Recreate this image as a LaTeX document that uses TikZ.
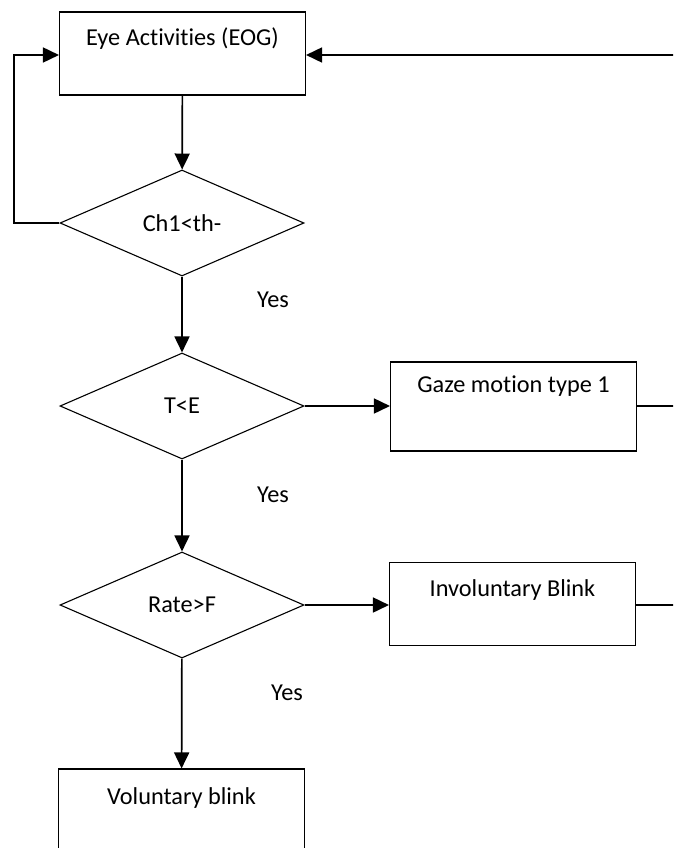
\documentclass[tikz,border=0pt]{standalone}
\usepackage{fontspec}
\setmainfont[Ligatures=NoCommon]{Carlito}
\usepackage{tikz}
\usetikzlibrary{arrows.meta,shapes.geometric}

\tikzset{
	blockbox/.style = {draw, line width=1.1pt, minimum width=246pt, minimum height=83pt, inner sep=0pt, text height=15pt, text depth=#1},
	blockbox/.default = 31pt,
	testbox/.style = {draw, diamond, line width=1.1pt, minimum width=244pt, minimum height=106pt, inner sep=0pt},
	flow/.style = {line width=1.7pt, -{Triangle[length=16pt,width=15pt]}},
	plain/.style = {line width=1.7pt}
}

\begin{document}
\begin{tikzpicture}[x=1pt, y=-1pt, font=\fontsize{24.3}{29}\selectfont]
	\useasboundingbox (0,0) rectangle (673,848);
	\clip (0,0) rectangle (673,848);
	% boxes
	\node[blockbox] (eog) at (182.5,53.5) {Eye Activities (EOG)};
	\node[blockbox=43pt, minimum height=89pt] (gaze) at (513.5,406.5) {Gaze motion type 1};
	\node[blockbox] (invol) at (512.5,604) {Involuntary Blink};
	\node[blockbox=28pt] (vol) at (181.5,810.5) {Voluntary blink};
	% tests
	\node[testbox] (ch) at (182,223) {Ch1<th-};
	\node[testbox] (te) at (182,406) {T<E};
	\node[testbox] (rate) at (182,605) {Rate>F};
	% answers
	\node (yesOne) at (273,300) {Yes};
	\node (yesTwo) at (273,495) {Yes};
	\node (yesThree) at (287,693) {Yes};
	% free ends beyond the right edge
	\coordinate (backIn) at (690,55);
	\coordinate (gazeOut) at (690,406);
	\coordinate (involOut) at (690,605);
	\coordinate (loopTop) at (14,55);
	% connectors
	\draw[flow] (eog) -- (ch);
	\draw[flow] (ch) -- (te);
	\draw[flow] (te) -- (rate);
	\draw[flow] (rate) -- (vol);
	\draw[flow] (te.east) -- (gaze.west |- te.east);
	\draw[flow] (rate.east) -- (invol.west |- rate.east);
	\draw[flow] (ch.west) -| (loopTop) -- (eog.west |- loopTop);
	\draw[flow] (backIn) -- (eog.east |- backIn);
	\draw[plain] (gaze.east |- gazeOut) -- (gazeOut);
	\draw[plain] (invol.east |- involOut) -- (involOut);
\end{tikzpicture}
\end{document}
